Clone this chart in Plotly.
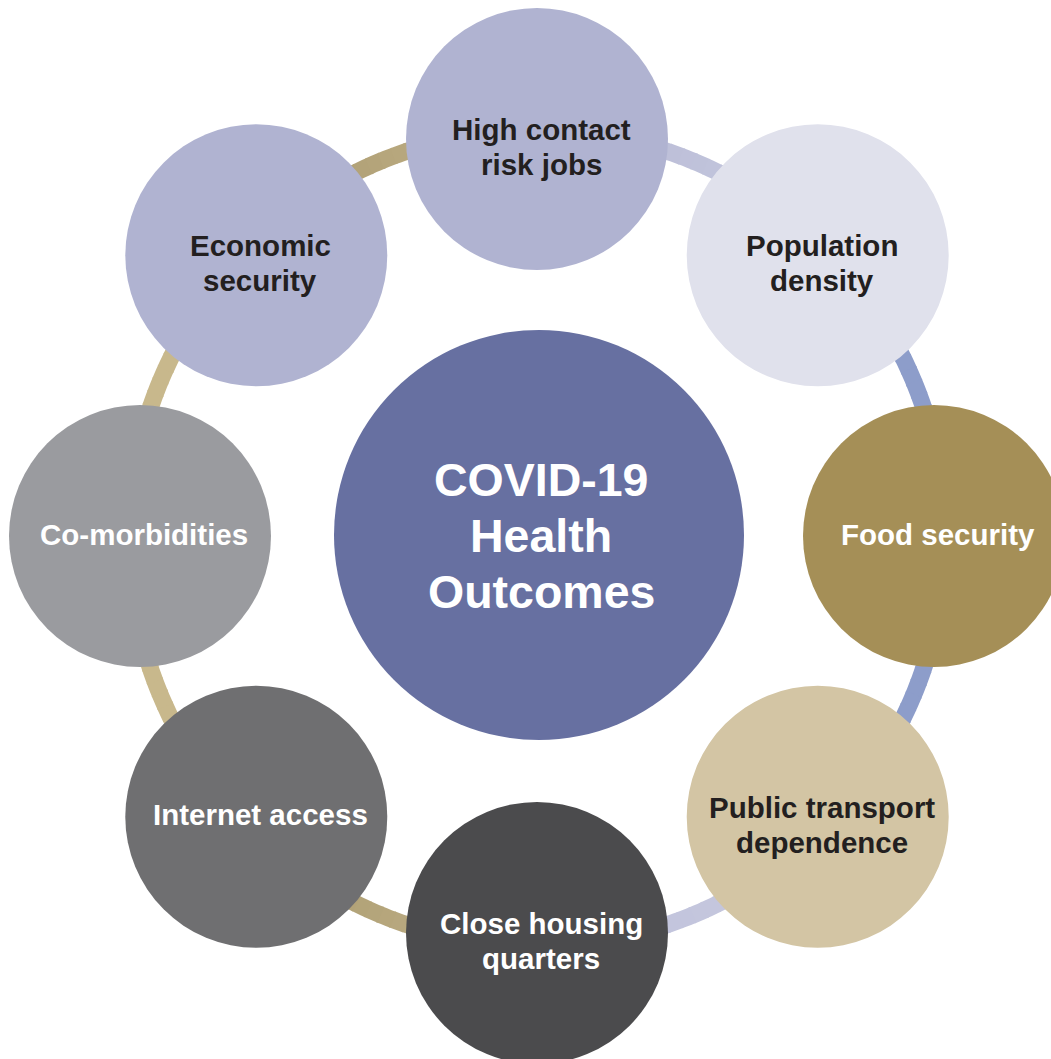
import numpy as np
import plotly.graph_objects as go

# ---- data ----
center_label = ["COVID-19", "Health", "Outcomes"]
labels = [
    ["High contact", "risk jobs"],
    ["Population", "density"],
    ["Food security"],
    ["Public transport", "dependence"],
    ["Close housing", "quarters"],
    ["Internet access"],
    ["Co-morbidities"],
    ["Economic", "security"],
]
circle_colors = ["#b0b3d1", "#e0e1ec", "#a58f57", "#d3c5a4",
                 "#4b4b4d", "#6f6f71", "#9a9b9f", "#b0b3d1"]
text_colors = ["#231f20", "#231f20", "#ffffff", "#231f20",
               "#ffffff", "#ffffff", "#ffffff", "#231f20"]
# ring segment colours (start -> end) between consecutive circles, clockwise from top
ring_colors = [
    ("#b6b9d5", "#c8cadf"),
    ("#8d9dca", "#8d9dca"),
    ("#8d9dca", "#8d9dca"),
    ("#c8cadf", "#bfc1db"),
    ("#c2b48c", "#a8976b"),
    ("#c8b88c", "#c8b88c"),
    ("#c8b88c", "#c8b88c"),
    ("#a8966a", "#c2b48c"),
]

W, H = 1051, 1059
CX, CY, R = 537, 536, 397
RING_CX, RING_CY, RING_R = 537, 538, 408
OUTER_R, CENTER_R = 131, 205
FONT = "Liberation Sans, Arial, Helvetica, sans-serif"


def hex2rgb(h):
    h = h.lstrip("#")
    return np.array([int(h[i:i + 2], 16) for i in (0, 2, 4)], dtype=float)


def mix(a, b, t):
    c = hex2rgb(a) * (1 - t) + hex2rgb(b) * t
    return "rgb(%d,%d,%d)" % tuple(np.round(c).astype(int))


n = len(labels)
angles = [i * 360.0 / n for i in range(n)]

shapes = []
annotations = []

# ring arcs
steps = 24
for i in range(n):
    a0 = np.radians(angles[i])
    a1 = np.radians(angles[i] + 360.0 / n)
    edges = np.linspace(a0, a1, steps + 1)
    for k in range(steps):
        t = np.linspace(edges[k], edges[k + 1] + 0.004, 4)
        xs = RING_CX + RING_R * np.sin(t)
        ys = RING_CY - RING_R * np.cos(t)
        path = "M " + " L ".join("%.2f,%.2f" % (x, y) for x, y in zip(xs, ys))
        shapes.append(dict(type="path", path=path, xref="x", yref="y",
                           line=dict(color=mix(ring_colors[i][0], ring_colors[i][1], (k + 0.5) / steps), width=17),
                           layer="above"))


def add_lines(lines, x, y, size, spacing, color, shift):
    m = len(lines)
    for j, line in enumerate(lines):
        yy = y + shift + (j - (m - 1) / 2.0) * spacing
        annotations.append(dict(x=x, y=yy, xref="x", yref="y", text="<b>" + line + "</b>",
                                showarrow=False, align="center", xanchor="center", yanchor="middle",
                                font=dict(family=FONT, size=size, color=color)))


# outer circles
for i in range(n):
    a = np.radians(angles[i])
    x = CX + R * np.sin(a)
    y = CY - R * np.cos(a)
    shapes.append(dict(type="circle", xref="x", yref="y",
                       x0=x - OUTER_R, x1=x + OUTER_R, y0=y - OUTER_R, y1=y + OUTER_R,
                       fillcolor=circle_colors[i], line=dict(width=0), layer="above"))
    shift = 8 if len(labels[i]) > 1 else -2
    add_lines(labels[i], x + 4, y, 29.5, 35, text_colors[i], shift)

# centre circle
shapes.append(dict(type="circle", xref="x", yref="y",
                   x0=539 - CENTER_R, x1=539 + CENTER_R, y0=535 - CENTER_R, y1=535 + CENTER_R,
                   fillcolor="#6770a1", line=dict(width=0), layer="above"))
add_lines(center_label, 541, 535, 46.5, 56, "#ffffff", 1)

fig = go.Figure()
fig.add_trace(go.Scatter(x=[0, W], y=[0, H], mode="markers", marker=dict(opacity=0),
                         hoverinfo="skip", showlegend=False))
fig.update_layout(
    width=W, height=H, autosize=False,
    margin=dict(l=0, r=0, t=0, b=0),
    paper_bgcolor="white", plot_bgcolor="white",
    xaxis=dict(range=[0, W], visible=False, fixedrange=True),
    yaxis=dict(range=[H, 0], visible=False, fixedrange=True),
    shapes=shapes, annotations=annotations, showlegend=False,
)
fig.write_html("out.html", config={"displayModeBar": False},
               post_script="document.body.style.margin='0px';document.body.style.overflow='hidden';")
